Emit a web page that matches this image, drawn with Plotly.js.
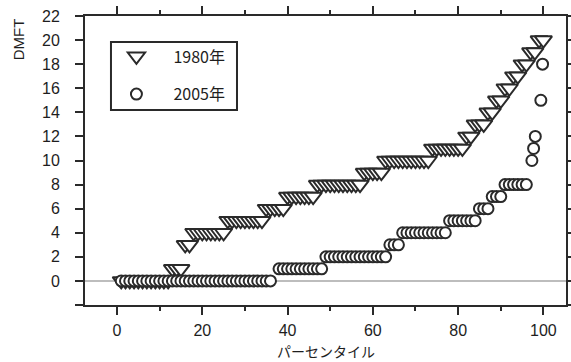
<!DOCTYPE html>
<html>
<head>
<meta charset="utf-8">
<script src="https://cdn.plot.ly/plotly-3.0.1.min.js"></script>
<style>html,body{margin:0;padding:0;background:#fff;}#chart{width:571px;height:362px;}</style>
</head>
<body>
<div id="chart"></div>
<script>
// 1980年 (triangles)
const x1980 = [1,2,3,4,5,6,7,8,9,10,11,12,
  13,14,15,
  16,17,
  18,19,20,21,22,23,24,25,
  26,27,28,29,30,31,32,33,34,
  35,36,37,38,39,
  40,41,42,43,44,45,46,
  47,48,49,50,51,52,53,54,55,56,57,
  58,59,60,61,62,
  63,64,65,66,67,68,69,70,71,72,73,
  74,75,76,77,78,79,80,81,
  82,83,
  84,85,86,
  87,88,
  89,90,
  91,92,
  93,94,
  95,96,
  97,98,
  99,100];
const y1980 = [0,0,0,0,0,0,0,0,0,0,0,0,
  1,1,1,
  3,3,
  4,4,4,4,4,4,4,4,
  5,5,5,5,5,5,5,5,5,
  6,6,6,6,6,
  7,7,7,7,7,7,7,
  8,8,8,8,8,8,8,8,8,8,8,
  9,9,9,9,9,
  10,10,10,10,10,10,10,10,10,10,10,
  11,11,11,11,11,11,11,11,
  12,12,
  13,13,13,
  14,14,
  15,15,
  16,16,
  17,17,
  18,18,
  19,19,
  20,20];
// 2005年 (circles)
const x2005 = [1,2,3,4,5,6,7,8,9,10,11,12,13,14,15,16,17,18,19,20,21,22,23,24,25,26,27,28,29,30,31,32,33,34,35,36,
  38,39,40,41,42,43,44,45,46,47,48,
  49,50,51,52,53,54,55,56,57,58,59,60,61,62,63,
  64,65,66,
  67,68,69,70,71,72,73,74,75,76,77,
  78,79,80,81,82,83,84,
  85,86,87,
  88,89,90,
  91,92,93,94,95,96,
  97.3,97.7,98.1,99.4,99.8];
const y2005 = [0,0,0,0,0,0,0,0,0,0,0,0,0,0,0,0,0,0,0,0,0,0,0,0,0,0,0,0,0,0,0,0,0,0,0,0,
  1,1,1,1,1,1,1,1,1,1,1,
  2,2,2,2,2,2,2,2,2,2,2,2,2,2,2,
  3,3,3,
  4,4,4,4,4,4,4,4,4,4,4,
  5,5,5,5,5,5,5,
  6,6,6,
  7,7,7,
  8,8,8,8,8,8,
  10,11,12,15,18];

const seriesNames = ['1980年', '2005年'];
const xTickVals = [0, 20, 40, 60, 80, 100];
const xTickText = ['0', '20', '40', '60', '80', '100'];
const yTickVals = [-2, 0, 2, 4, 6, 8, 10, 12, 14, 16, 18, 20, 22];
const yTickText = ['', '0', '2', '4', '6', '8', '10', '12', '14', '16', '18', '20', '22'];
const xTitle = 'パーセンタイル';
const yTitle = 'DMFT';

const ink = '#2a2a2a';
const tickFont = {family: 'Liberation Sans Narrow, Arial Narrow, sans-serif', size: 16, color: '#1e1e1e'};

const traces = [
  {
    x: x1980, y: y1980, name: seriesNames[0], type: 'scatter', mode: 'markers',
    legendgroup: 'a',
    marker: {symbol: 'triangle-down', size: 15, color: '#ffffff', line: {color: ink, width: 2}},
    cliponaxis: false
  },
  {
    x: x2005, y: y2005, name: seriesNames[1], type: 'scatter', mode: 'markers',
    legendgroup: 'b',
    marker: {symbol: 'circle', size: 11, color: '#ffffff', line: {color: ink, width: 2}},
    cliponaxis: false
  }
];

const layout = {
  width: 571, height: 362,
  margin: {l: 85, r: 5, t: 16, b: 57},
  paper_bgcolor: '#ffffff', plot_bgcolor: '#ffffff',
  showlegend: true,
  legend: {
    x: 0.03, y: 0.919, xanchor: 'left', yanchor: 'top',
    bgcolor: 'rgba(0,0,0,0)', borderwidth: 0,
    itemwidth: 64, tracegroupgap: 14,
    font: {family: 'Liberation Sans Narrow, Noto Sans CJK JP, sans-serif', size: 16, color: '#1e1e1e'}
  },
  xaxis: {
    range: [-7.5, 105.3],
    tickmode: 'array', tickvals: xTickVals, ticktext: xTickText,
    ticks: 'outside', ticklen: 8, tickwidth: 2, tickcolor: ink,
    minor: {dtick: 10, tick0: 0, ticks: 'outside', ticklen: 4, tickwidth: 2, tickcolor: ink},
    showline: true, linecolor: ink, linewidth: 2, mirror: 'ticks',
    showgrid: false, zeroline: false,
    tickfont: tickFont, ticklabelstandoff: 2
  },
  yaxis: {
    range: [-2, 22],
    tickmode: 'array', tickvals: yTickVals, ticktext: yTickText,
    ticks: 'outside', ticklen: 8, tickwidth: 2, tickcolor: ink,
    showline: true, linecolor: ink, linewidth: 2, mirror: 'ticks',
    showgrid: false, zeroline: true, zerolinecolor: '#bdbdbd', zerolinewidth: 1.5,
    tickfont: tickFont, ticklabelstandoff: 12
  },
  shapes: [
    {type: 'rect', xref: 'paper', yref: 'paper', x0: 0.054, x1: 0.316, y0: 0.675, y1: 0.910,
     line: {color: ink, width: 2}, fillcolor: 'rgba(0,0,0,0)'}
  ],
  annotations: [
    {text: yTitle, xref: 'paper', yref: 'paper', x: -0.139, y: 0.92, textangle: -90,
     showarrow: false, xanchor: 'center', yanchor: 'middle',
     font: {family: 'Liberation Sans Narrow, sans-serif', size: 15, color: '#1e1e1e'}},
    {text: xTitle, xref: 'paper', yref: 'paper', x: 0.501, y: -0.197,
     showarrow: false, xanchor: 'center', yanchor: 'bottom', borderpad: 0,
     font: {family: 'Noto Sans CJK JP, sans-serif', size: 14, color: '#1e1e1e'}}
  ]
};

Plotly.newPlot('chart', traces, layout, {displayModeBar: false, staticPlot: true});
</script>
</body>
</html>
